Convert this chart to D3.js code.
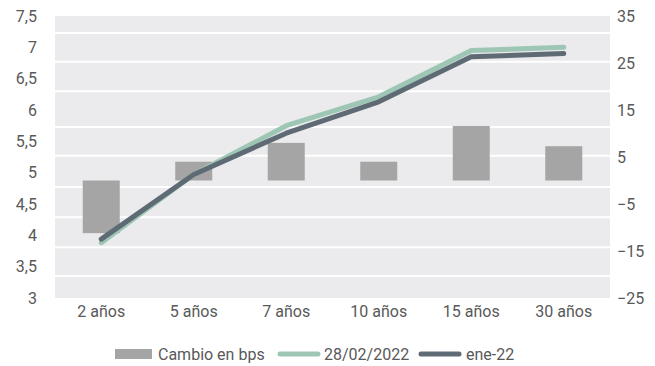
<!DOCTYPE html>
<html>
<head>
<meta charset="utf-8">
<script src="https://cdn.jsdelivr.net/npm/d3@7"></script>
<style>
  html, body { margin: 0; padding: 0; background: #ffffff; }
  svg { display: block; }
  text { font-family: Roboto, "Noto Sans", sans-serif; fill: #595959; }
</style>
</head>
<body>
<svg id="chart" width="655" height="366"></svg>
<script>
// Plazos de la curva
const categories = ["2 años", "5 años", "7 años", "10 años", "15 años", "30 años"];
// Cambio en puntos básicos (eje derecho)
const cambioBps = [-11.2, 4.0, 8.0, 4.0, 11.6, 7.3];
// Tasas (%) al 28/02/2022 (eje izquierdo)
const tasas280222 = [3.88, 4.97, 5.75, 6.21, 6.95, 7.0];
// Tasas (%) en ene-22 (eje izquierdo)
const tasasEne22 = [3.94, 4.97, 5.63, 6.13, 6.85, 6.9];
// Marcas de los ejes
const leftTicks = [3, 3.5, 4, 4.5, 5, 5.5, 6, 6.5, 7, 7.5];
const rightTicks = [-25, -15, -5, 5, 15, 25, 35];
// Niveles de las líneas de cuadrícula (unidades del eje izquierdo)
const gridLevels = [7.23, 6.77, 6.3, 5.73, 5.27, 4.77, 4.29, 3.81, 3.35];

const seriesNames = ["Cambio en bps", "28/02/2022", "ene-22"];
const colors = { bar: "#a5a5a5", green: "#9ec6b4", dark: "#5f6b74", bg: "#ebebed" };
const FS = 16;

const svg = d3.select("#chart");
const m = { left: 55, right: 45, top: 16, bottom: 68 };
const W = 655, H = 366;
const iw = W - m.left - m.right, ih = H - m.top - m.bottom;

const g = svg.append("g").attr("transform", `translate(${m.left},${m.top})`);

const x = d3.scaleBand().domain(categories).range([0, iw]).paddingInner(0).paddingOuter(0);
const yL = d3.scaleLinear().domain([3, 7.5]).range([ih, 0]);
const yR = d3.scaleLinear().domain([-25, 35]).range([ih, 0]);

// fondo del área de trazado
g.append("rect").attr("width", iw).attr("height", ih).attr("fill", colors.bg);

// cuadrícula
g.selectAll("line.grid").data(gridLevels).join("line")
  .attr("class", "grid")
  .attr("x1", 0).attr("x2", iw)
  .attr("y1", d => yL(d)).attr("y2", d => yL(d))
  .attr("stroke", "#ffffff").attr("stroke-width", 2);

// barras
const bw = x.bandwidth() * 0.4;
g.selectAll("rect.bar").data(categories.map((c, i) => ({ c, v: cambioBps[i] }))).join("rect")
  .attr("class", "bar")
  .attr("x", d => x(d.c) + (x.bandwidth() - bw) / 2)
  .attr("width", bw)
  .attr("y", d => yR(Math.max(0, d.v)))
  .attr("height", d => Math.abs(yR(d.v) - yR(0)))
  .attr("fill", colors.bar);

// líneas
const line = d3.line().x((d, i) => x(categories[i]) + x.bandwidth() / 2).y(d => yL(d));
g.append("path").datum(tasas280222).attr("d", line)
  .attr("fill", "none").attr("stroke", colors.green).attr("stroke-width", 5)
  .attr("stroke-linecap", "round").attr("stroke-linejoin", "round");
g.append("path").datum(tasasEne22).attr("d", line)
  .attr("fill", "none").attr("stroke", colors.dark).attr("stroke-width", 5)
  .attr("stroke-linecap", "round").attr("stroke-linejoin", "round");

// ejes
const esFmt = v => String(v).replace(".", ",");

const styleAxis = sel => {
  sel.select(".domain").remove();
  sel.selectAll("text").attr("font-size", FS).attr("fill", "#595959")
    .style("font-family", "Roboto, sans-serif");
};

g.append("g")
  .call(d3.axisLeft(yL).tickValues(leftTicks).tickFormat(esFmt).tickSize(0).tickPadding(18))
  .call(styleAxis);

g.append("g").attr("transform", `translate(${iw},0)`)
  .call(d3.axisRight(yR).tickValues(rightTicks).tickSize(0).tickPadding(7))
  .call(styleAxis);

g.append("g").attr("transform", `translate(0,${ih})`)
  .call(d3.axisBottom(x).tickSize(0).tickPadding(8))
  .call(styleAxis);

// leyenda
const leg = svg.append("g").attr("transform", "translate(0,354)");
leg.append("rect").attr("x", 115).attr("y", -5).attr("width", 37).attr("height", 10).attr("fill", colors.bar);
leg.append("text").attr("x", 158).attr("y", 0).attr("dy", "0.35em").attr("font-size", FS).text(seriesNames[0]);
leg.append("line").attr("x1", 280).attr("x2", 318).attr("y1", 0).attr("y2", 0)
  .attr("stroke", colors.green).attr("stroke-width", 5).attr("stroke-linecap", "round");
leg.append("text").attr("x", 324).attr("y", 0).attr("dy", "0.35em").attr("font-size", FS).text(seriesNames[1]);
leg.append("line").attr("x1", 421).attr("x2", 459).attr("y1", 0).attr("y2", 0)
  .attr("stroke", colors.dark).attr("stroke-width", 5).attr("stroke-linecap", "round");
leg.append("text").attr("x", 466).attr("y", 0).attr("dy", "0.35em").attr("font-size", FS).text(seriesNames[2]);
</script>
</body>
</html>
